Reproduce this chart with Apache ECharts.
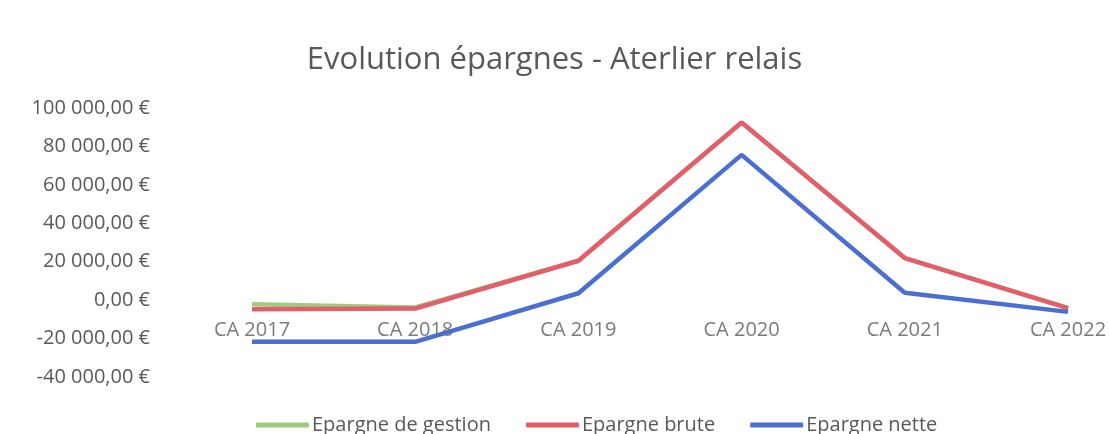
<!DOCTYPE html>
<html><head><meta charset="utf-8">
<script src="https://cdn.jsdelivr.net/npm/echarts@6/dist/echarts.min.js"></script>
<style>html,body{margin:0;padding:0;background:#fff}#c{width:1109px;height:434px}</style>
</head><body><div id="c"></div>
<script>
const categories = ['CA 2017','CA 2018','CA 2019','CA 2020','CA 2021','CA 2022'];
const epargneGestion = [-2100, -3800, 20500, 92500, 21900, -4200];
const epargneBrute = [-4800, -4400, 20500, 92500, 21900, -4200];
const epargneNette = [-21700, -21700, 3600, 75600, 3800, -6100];
const yTicks = {min: -40000, max: 100000, interval: 20000};

const font = 'Open Sans';
const fmt = v => {
  const neg = v < 0; const s = Math.abs(v).toFixed(0).replace(/\B(?=(\d{3})+(?!\d))/g, ' ');
  return (neg ? '-' : '') + s + ',00 €';
};
const chart = echarts.init(document.getElementById('c'));
const mk = (name, data, color) => ({
  name, type: 'line', data, symbol: 'none', smooth: false,
  lineStyle: {width: 4.5, color}, itemStyle: {color}
});
chart.setOption({
  animation: false,
  title: {text: 'Evolution épargnes - Aterlier relais', left: 'center', top: 40,
    textStyle: {fontFamily: font, fontSize: 31, fontWeight: 'normal', color: '#595959'}},
  grid: {left: 252, right: 41, top: 108, bottom: 57},
  legend: {top: 410, left: 251, itemWidth: 53, itemHeight: 5, itemGap: 35, icon: 'roundRect',
    textStyle: {fontFamily: font, fontSize: 20, color: '#595959', padding: [0,0,0,-2]},
    data: ['Epargne de gestion','Epargne brute','Epargne nette']},
  xAxis: {type: 'category', data: categories, boundaryGap: false,
    axisLine: {show: false}, axisTick: {show: false}, axisLabel: {show: false}},
  yAxis: {type: 'value', min: yTicks.min, max: yTicks.max, interval: yTicks.interval,
    splitLine: {show: false}, axisLine: {show: false}, axisTick: {show: false},
    axisLabel: {fontFamily: font, fontSize: 20, color: '#595959', margin: 102, formatter: fmt}},
  series: [
    {name: 'axisLabels', type: 'scatter', silent: true, symbolSize: 0, z: 1,
     data: categories.map(c => [c, 0]),
     label: {show: true, position: 'bottom', distance: 20, fontFamily: font, fontSize: 20, color: '#595959',
       formatter: p => categories[p.dataIndex]}},
    mk('Epargne de gestion', epargneGestion, '#9fcb7e'),
    mk('Epargne brute', epargneBrute, '#e35d6a'),
    mk('Epargne nette', epargneNette, '#4a6fd0')
  ]
});
</script></body></html>
